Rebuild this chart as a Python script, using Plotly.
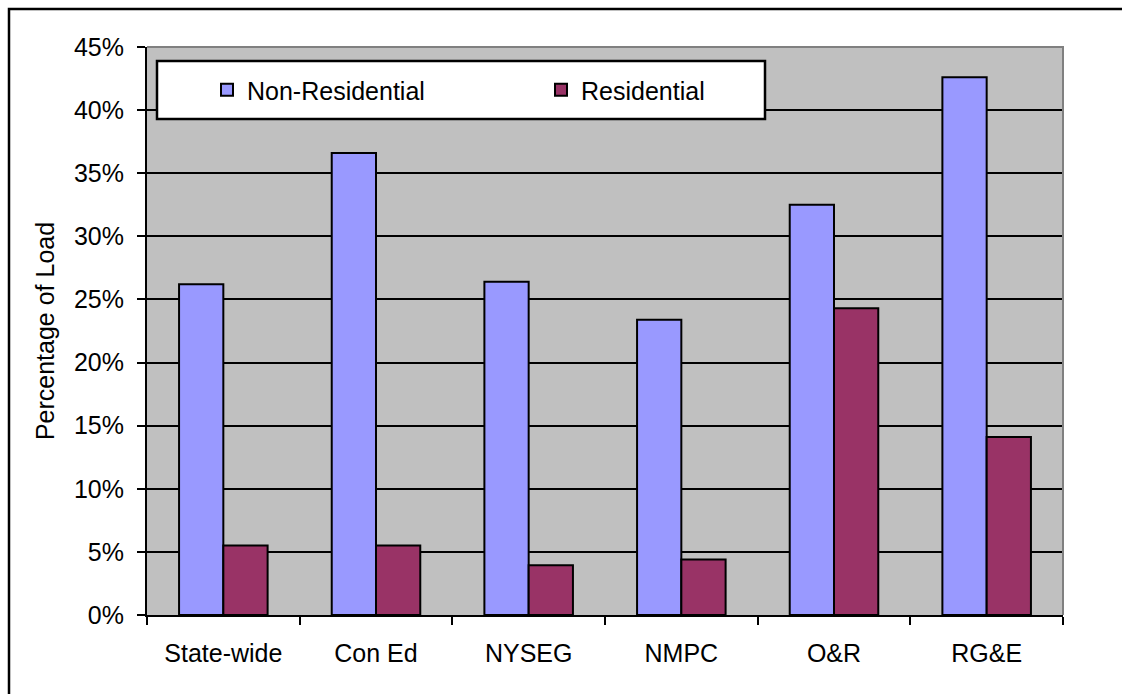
import plotly.graph_objects as go

# Share of load by utility, split by customer class (percent)
utilities = ["State-wide", "Con Ed", "NYSEG", "NMPC", "O&R", "RG&E"]
non_residential = [26.2, 36.6, 26.4, 23.4, 32.5, 42.6]
residential = [5.5, 5.5, 3.95, 4.4, 24.3, 14.1]

W, H = 1122, 694
ML, MR, MT, MB = 147, 59, 47, 79
PW, PH = W - ML - MR, H - MT - MB
FONT = dict(family="Liberation Sans, Arial, sans-serif", size=25, color="black")


def px_x(p):
    return (p - ML) / PW


def px_y(p):
    return (H - MB - p) / PH


fig = go.Figure()
fig.add_trace(go.Bar(
    name="Non-Residential", x=utilities, y=non_residential,
    marker=dict(color="#9999FF", line=dict(color="black", width=2)),
))
fig.add_trace(go.Bar(
    name="Residential", x=utilities, y=residential,
    marker=dict(color="#993366", line=dict(color="black", width=2)),
))

shapes = [
    # outer chart frame (left and top edges)
    dict(type="path", xref="paper", yref="paper",
         path=f"M {px_x(9)},{px_y(H + 5)} L {px_x(9)},{px_y(9)} L {px_x(W + 5)},{px_y(9)}",
         line=dict(color="black", width=2.5), layer="above"),
    # plot area top and right border
    dict(type="path", xref="paper", yref="paper",
         path="M 0,1 L 1,1 L 1,0",
         line=dict(color="#808080", width=2), layer="above"),
    # legend box
    dict(type="rect", xref="paper", yref="paper",
         x0=px_x(157), x1=px_x(765), y0=px_y(119), y1=px_y(61),
         fillcolor="white", line=dict(color="black", width=2.5), layer="above"),
]

fig.update_layout(
    width=W, height=H,
    margin=dict(l=ML, r=MR, t=MT, b=MB, pad=0),
    paper_bgcolor="white",
    plot_bgcolor="#C0C0C0",
    font=FONT,
    barmode="group",
    bargap=0.42,
    bargroupgap=0,
    shapes=shapes,
    showlegend=True,
    legend=dict(
        orientation="h",
        x=px_x(207), xanchor="left",
        y=px_y(90), yanchor="middle",
        bgcolor="rgba(0,0,0,0)",
        borderwidth=0,
        font=FONT,
        entrywidth=289,
        entrywidthmode="pixels",
        itemclick=False,
    ),
    xaxis=dict(
        type="category",
        showline=True, linecolor="black", linewidth=2,
        ticks="outside", tickson="boundaries", ticklen=8, tickwidth=2, tickcolor="black",
        ticklabelstandoff=15,
        showgrid=False, zeroline=False,
        tickfont=FONT,
    ),
    yaxis=dict(
        range=[0, 45], dtick=5, ticksuffix="%",
        showline=True, linecolor="black", linewidth=2,
        ticks="outside", ticklen=8, tickwidth=2, tickcolor="black",
        ticklabelstandoff=8,
        showgrid=True, gridcolor="black", gridwidth=1.7,
        zeroline=False,
        tickfont=FONT,
        title=dict(text="Percentage of Load", font=FONT, standoff=12),
    ),
)

fig.write_html("out.html")
